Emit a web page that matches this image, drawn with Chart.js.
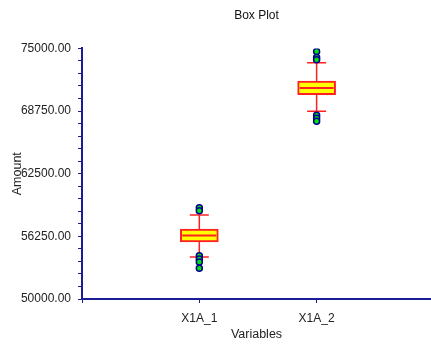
<!DOCTYPE html>
<html>
<head>
<meta charset="utf-8">
<title>Box Plot</title>
<script src="https://cdn.jsdelivr.net/npm/chart.js@4/dist/chart.umd.min.js"></script>
<style>
  html, body { margin: 0; padding: 0; background: #fff; }
  #boxChart { display: block; }
</style>
</head>
<body>
<canvas id="boxChart" width="431" height="347"></canvas>
<script>
// Dados
const categories = ['X1A_1', 'X1A_2'];
const whiskerLow = [54200, 68730];
const q1 = [55700, 70390];
const median = [56340, 71050];
const q3 = [56970, 71740];
const whiskerHigh = [58370, 73580];
const outliers = [
    [59100, 58800, 54310, 53980, 53690, 53060],
    [74700, 74100, 73880, 68330, 68030, 67730]
];
const yTicksMajor = [50000, 56250, 62500, 68750, 75000];

const axisColor = '#1c1c96';
const boxRed = '#ff2020';
const font = { family: "'Liberation Sans', Arial, sans-serif", size: 12 };

// posição de cada categoria no eixo x (1, 2, ...)
const xPos = categories.map((c, i) => i + 1);

const datasets = [];

// caixas (q1..q3)
datasets.push({
    type: 'bar',
    data: xPos.map((x, i) => ({ x: x, y: [q1[i], q3[i]] })),
    backgroundColor: '#ffff00',
    borderColor: boxRed,
    borderWidth: 2,
    borderSkipped: false,
    barThickness: 38,
    order: 2
});

// medianas
datasets.push({
    type: 'scatter',
    data: xPos.map((x, i) => ({ x: x, y: median[i] })),
    pointStyle: 'line',
    pointRadius: 17,
    borderColor: boxRed,
    borderWidth: 2,
    order: 1
});

// bigodes
xPos.forEach((x, i) => {
    datasets.push({
        type: 'line',
        data: [{ x: x, y: whiskerLow[i] }, { x: x, y: whiskerHigh[i] }],
        borderColor: boxRed,
        borderWidth: 1.5,
        pointRadius: 0,
        order: 4
    });
});

// extremidades dos bigodes
datasets.push({
    type: 'scatter',
    data: xPos.flatMap((x, i) => [{ x: x, y: whiskerLow[i] }, { x: x, y: whiskerHigh[i] }]),
    pointStyle: 'line',
    pointRadius: 9.5,
    borderColor: boxRed,
    borderWidth: 1.5,
    order: 3
});

// outliers
datasets.push({
    type: 'scatter',
    data: xPos.flatMap((x, i) => outliers[i].map(v => ({ x: x, y: v }))),
    pointStyle: 'circle',
    pointRadius: 3,
    backgroundColor: '#00e600',
    borderColor: '#000096',
    borderWidth: 1.5,
    order: 0
});

const ctx = document.getElementById('boxChart').getContext('2d');
const chart = new Chart(ctx, {
    type: 'bar',
    data: { datasets: datasets },
    options: {
        responsive: false,
        animation: false,
        layout: { autoPadding: false, padding: { left: 0, right: 0, top: 0, bottom: 0 } },
        plugins: {
            legend: { display: false },
            tooltip: { enabled: false },
            title: {
                display: true,
                fullSize: false,
                text: 'Box Plot',
                color: '#111',
                font: { family: font.family, size: 12, weight: 'normal' },
                padding: { top: 8, bottom: 26 }
            }
        },
        scales: {
            x: {
                type: 'linear',
                min: 0,
                max: 2.975,
                offset: false,
                grid: { display: true, offset: false, drawOnChartArea: false, drawTicks: true, tickLength: 4, color: axisColor },
                border: { display: true, color: axisColor, width: 2 },
                ticks: {
                    stepSize: 1,
                    includeBounds: false,
                    autoSkip: false,
                    maxRotation: 0,
                    padding: 8,
                    color: '#222',
                    font: font,
                    callback: v => categories[v - 1] || ''
                },
                title: {
                    display: true,
                    text: 'Variables',
                    color: '#222',
                    font: { family: font.family, size: 12.5 },
                    padding: { top: 0, bottom: 5 }
                },
                afterFit: s => {
                    s.height = 48;
                    s.paddingLeft = 0;
                    s.paddingRight = 0;
                }
            },
            y: {
                min: 50000,
                max: 75000,
                grid: { display: true, drawOnChartArea: false, drawTicks: true, tickLength: 4, color: axisColor },
                border: { display: true, color: axisColor, width: 2 },
                ticks: {
                    stepSize: 1250,
                    autoSkip: false,
                    padding: 7,
                    color: '#222',
                    font: font,
                    callback: v => yTicksMajor.includes(v) ? v.toFixed(2) : ''
                },
                title: {
                    display: true,
                    text: 'Amount',
                    color: '#222',
                    font: { family: font.family, size: 12.5 },
                    padding: { top: 10, bottom: 0 }
                },
                afterFit: s => { s.width = 82; }
            }
        }
    }
});
</script>
</body>
</html>
